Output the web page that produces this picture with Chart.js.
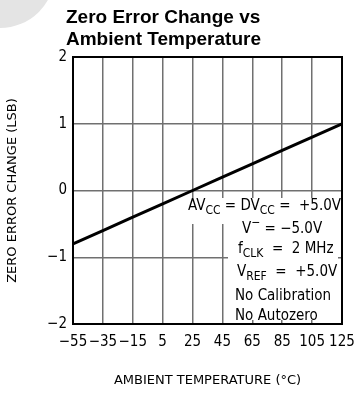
<!DOCTYPE html>
<html>
<head>
<meta charset="utf-8">
<script src="https://cdn.jsdelivr.net/npm/chart.js@4.4.0/dist/chart.umd.min.js"></script>
<style>
  html, body { margin: 0; padding: 0; background: #fff; }
  #wrap { width: 357px; height: 393px; }
</style>
</head>
<body>
<div id="wrap"><canvas id="zero_chart" width="357" height="393"></canvas></div>
<script>
// values
const temperature = [-55, -35, -15, 5, 25, 45, 65, 85, 105, 125];
const zeroChange = [-0.8, -0.6, -0.4, -0.2, 0.0, 0.2, 0.4, 0.6, 0.8, 1.0];
const xTicks = [-55, -35, -15, 5, 25, 45, 65, 85, 105, 125];
const yTicks = [-2, -1, 0, 1, 2];

const narrow = "'Liberation Sans Narrow', 'DejaVu Sans Condensed', 'Arial Narrow', sans-serif";
const stroke = "'DejaVu Sans', sans-serif";

function minus(v) {
  return v < 0 ? '\u2212' + Math.abs(v) : String(v);
}

// title, corner arc, frame and the conditions box
const extras = {
  id: 'extras',
  beforeDraw(chart) {
    const c = chart.ctx;
    c.save();
    c.fillStyle = '#e4e4e4';
    c.beginPath();
    c.arc(0, -27, 55, 0, Math.PI * 2);
    c.fill();
    c.fillStyle = '#000';
    c.font = "bold 19px 'Liberation Sans', Arial, sans-serif";
    c.textBaseline = 'middle';
    c.fillText('Zero Error Change vs', 66, 18);
    c.fillText('Ambient Temperature', 66, 40);
    c.restore();
  },
  afterDatasetsDraw(chart) {
    const c = chart.ctx;
    const a = chart.chartArea;
    c.save();
    c.fillStyle = '#fff';
    c.fillRect(186, 198, a.right - 4 - 186, 26);
    c.fillRect(228, 224, a.right - 4 - 228, a.bottom - 4 - 224);

    const main = '15px ' + narrow;
    const sub = '12px ' + narrow;
    const rows = [
      [188, 206, [['AV', main, 0], ['CC', sub, 5], [' = DV', main, 0], ['CC', sub, 5], [' =  +5.0V', main, 0]]],
      [242, 229, [['V', main, 0], ['\u2212', sub, -6], [' = \u22125.0V', main, 0]]],
      [238, 249, [['f', main, 0], ['CLK', sub, 5], ['  =  2 MHz', main, 0]]],
      [237, 272, [['V', main, 0], ['REF', sub, 5], ['  =  +5.0V', main, 0]]],
      [235, 296, [['No Calibration', main, 0]]],
      [235, 316, [['No Autozero', main, 0]]]
    ];
    c.fillStyle = '#000';
    c.textBaseline = 'middle';
    rows.forEach(([x, y, parts]) => {
      let cx = x;
      parts.forEach(([t, f, dy]) => {
        c.font = f;
        c.fillText(t, cx, y + dy);
        cx += c.measureText(t).width;
      });
    });

    c.strokeStyle = '#000';
    c.lineWidth = 2;
    c.strokeRect(a.left, a.top, a.right - a.left, a.bottom - a.top);
    c.restore();
  }
};

const ctx = document.getElementById('zero_chart').getContext('2d');
new Chart(ctx, {
  type: 'line',
  data: {
    datasets: [
      {
        data: temperature.map((t, i) => ({ x: t, y: zeroChange[i] })),
        borderColor: '#000',
        borderWidth: 3,
        pointRadius: 0,
        fill: false,
        tension: 0
      }
    ]
  },
  options: {
    responsive: false,
    animation: false,
    layout: { padding: { top: 57, right: 15, left: 0, bottom: 0 } },
    plugins: { legend: { display: false }, tooltip: { enabled: false } },
    scales: {
      x: {
        type: 'linear',
        min: -55,
        max: 125,
        afterBuildTicks(scale) { scale.ticks = xTicks.map(v => ({ value: v })); },
        afterFit(scale) {
          scale.height = 69;
          scale.paddingLeft = 0;
          scale.paddingRight = 0;
        },
        grid: { color: '#707070', lineWidth: 1.5, drawTicks: false },
        border: { display: false },
        ticks: {
          color: '#000',
          padding: 9,
          maxRotation: 0,
          autoSkip: false,
          font: { family: narrow, size: 15 },
          callback: v => minus(v)
        },
        title: {
          display: true,
          text: 'AMBIENT TEMPERATURE (\u00b0C)',
          color: '#000',
          font: { family: stroke, size: 13 },
          padding: { top: 0, bottom: 5 }
        }
      },
      y: {
        min: -2,
        max: 2,
        afterBuildTicks(scale) { scale.ticks = yTicks.map(v => ({ value: v })); },
        afterFit(scale) {
          scale.width = 73;
          scale.paddingTop = 0;
          scale.paddingBottom = 0;
        },
        grid: { color: '#707070', lineWidth: 1.5, drawTicks: false },
        border: { display: false },
        ticks: {
          color: '#000',
          padding: 6,
          font: { family: narrow, size: 15 },
          callback: v => minus(v)
        },
        title: {
          display: true,
          text: 'ZERO ERROR CHANGE (LSB)',
          color: '#000',
          font: { family: stroke, size: 13 },
          padding: { top: 5, bottom: 0 }
        }
      }
    }
  },
  plugins: [extras]
});
</script>
</body>
</html>
